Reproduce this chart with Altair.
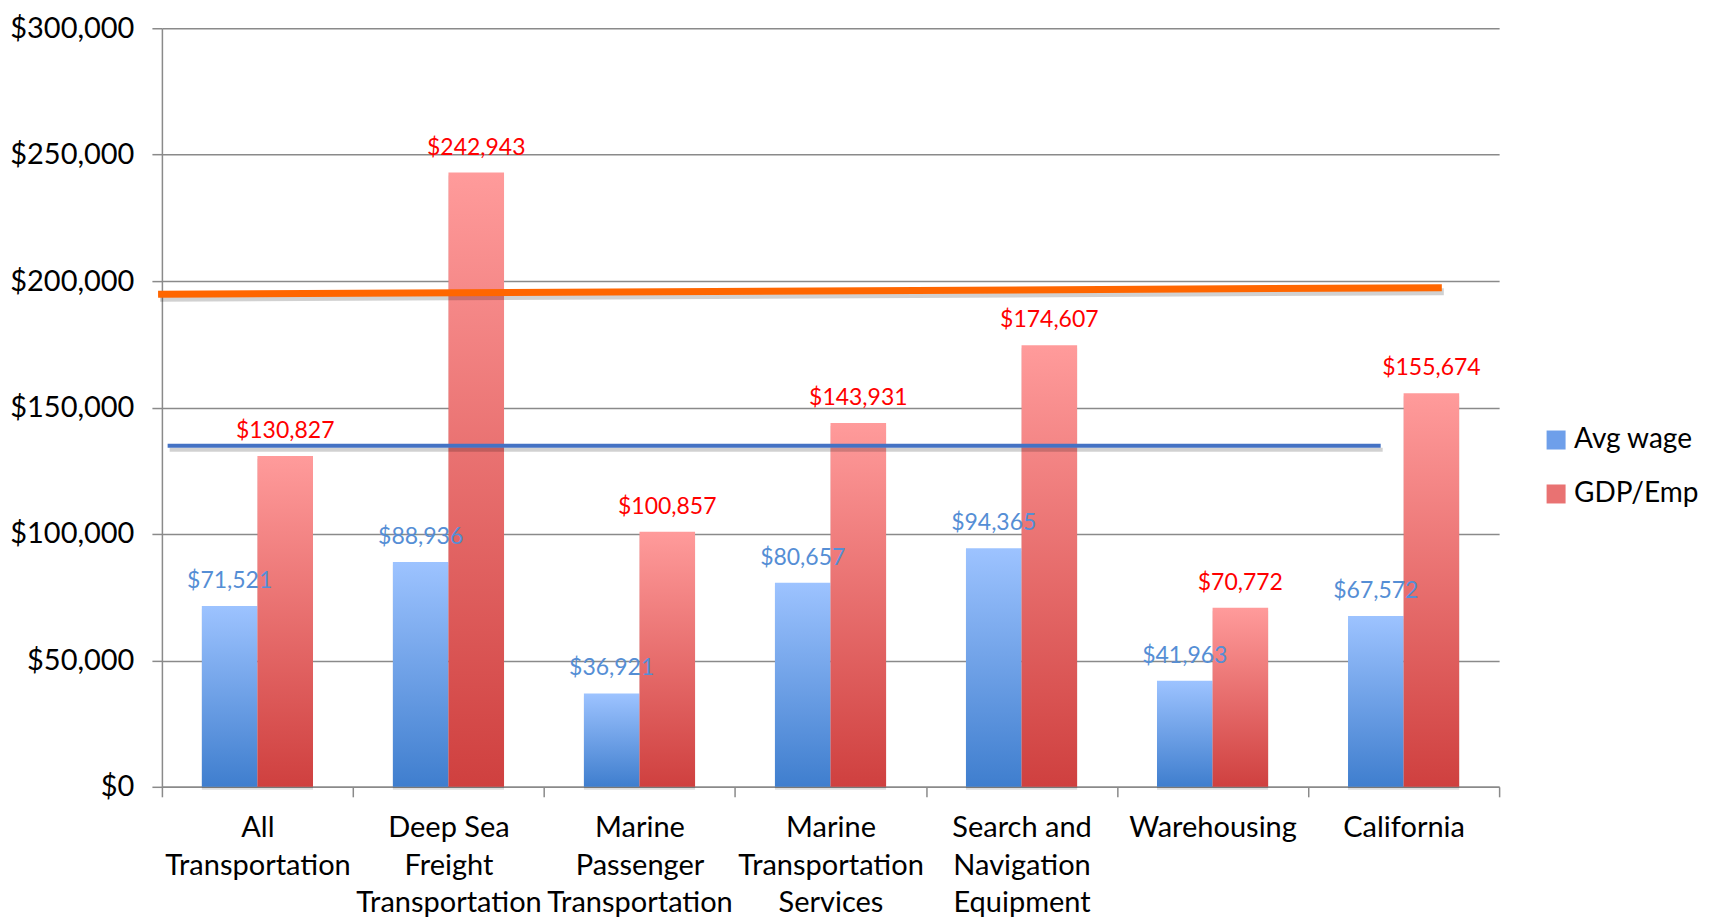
import altair as alt
import pandas as pd

categories = [
    "All|Transportation",
    "Deep Sea|Freight|Transportation",
    "Marine|Passenger|Transportation",
    "Marine|Transportation|Services",
    "Search and|Navigation|Equipment",
    "Warehousing",
    "California",
]
series = ["Avg wage", "GDP/Emp"]
avg_wage = [71521, 88936, 36921, 80657, 94365, 41963, 67572]
gdp_emp = [130827, 242943, 100857, 143931, 174607, 70772, 155674]

# reference lines (x in category units, 0..7 across the plot)
orange_pos = [-0.02, 6.70]
orange_val = [194760, 197400]
blue_pos = [0.03, 6.38]
blue_val = [134900, 134900]
y_ticks = [0, 50000, 100000, 150000, 200000, 250000, 300000]

rows = []
for c, a, g in zip(categories, avg_wage, gdp_emp):
    rows.append({"category": c, "series": series[0], "value": a})
    rows.append({"category": c, "series": series[1], "value": g})
df = pd.DataFrame(rows)

line_df = pd.DataFrame({
    "pos": orange_pos + blue_pos,
    "value": orange_val + blue_val,
    "line": ["orange", "orange", "blue", "blue"],
})

FONT = "Lato"
GRID = "#8a8a8a"

blue_grad = {"gradient": "linear", "x1": 0, "y1": 0, "x2": 0, "y2": 1,
             "stops": [{"offset": 0, "color": "#9DC3FF"}, {"offset": 1, "color": "#3F7ECE"}]}
red_grad = {"gradient": "linear", "x1": 0, "y1": 0, "x2": 0, "y2": 1,
            "stops": [{"offset": 0, "color": "#FF9B9B"}, {"offset": 1, "color": "#CF403F"}]}

x_enc = alt.X(
    "category:N",
    sort=categories,
    scale=alt.Scale(domain=categories, paddingInner=0, paddingOuter=0),
    axis=alt.Axis(
        title=None, labelAngle=0, labelExpr="split(datum.label, '|')",
        tickBand="extent", grid=False, labelFont=FONT, labelFontSize=29,
        labelColor="black", labelLineHeight=37.5, labelPadding=17, tickSize=10,
        tickColor=GRID, tickWidth=1.5, domainColor=GRID, domainWidth=1.5,
        labelBaseline="top", labelLimit=0,
    ),
)
xo_enc = alt.XOffset("series:N", scale=alt.Scale(domain=series, paddingInner=0, paddingOuter=0.7185))
y_enc = alt.Y(
    "value:Q",
    scale=alt.Scale(domain=[0, 300000], nice=False),
    axis=alt.Axis(
        title=None, format="$,.0f", values=y_ticks, grid=True, gridColor=GRID,
        gridWidth=1.5, labelFont=FONT, labelFontSize=29, labelColor="black",
        labelPadding=18, tickSize=10, tickColor=GRID, tickWidth=1.5,
        domainColor=GRID, domainWidth=1.5,
    ),
)

base = alt.Chart(df).encode(x=x_enc, xOffset=xo_enc, y=y_enc)

shadow = base.mark_bar(color="black", opacity=0.13, xOffset=3, yOffset=3)
blue_bars = base.transform_filter(alt.datum.series == series[0]).mark_bar(color=blue_grad)
red_bars = base.transform_filter(alt.datum.series == series[1]).mark_bar(color=red_grad)
blue_text = base.transform_filter(alt.datum.series == series[0]).mark_text(
    baseline="alphabetic", dy=-18, font=FONT, fontSize=23, color="#558ED5"
).encode(text=alt.Text("value:Q", format="$,.0f"))
red_text = base.transform_filter(alt.datum.series == series[1]).mark_text(
    baseline="alphabetic", dy=-18, font=FONT, fontSize=23, color="#FF0000"
).encode(text=alt.Text("value:Q", format="$,.0f"))
legend_pts = base.mark_point(opacity=0, filled=True).encode(
    color=alt.Color(
        "series:N",
        scale=alt.Scale(domain=series, range=["#6E9FEA", "#E97272"]),
        legend=alt.Legend(
            title=None, orient="none", legendX=1381, legendY=398,
            symbolType="square", symbolSize=361, symbolOpacity=1,
            symbolStrokeWidth=0, labelFont=FONT, labelFontSize=28,
            labelColor="black", rowPadding=26, labelOffset=4, padding=0,
        ),
    )
)

bars_layer = alt.layer(shadow, blue_bars, red_bars, blue_text, red_text, legend_pts)

lx = alt.X("pos:Q", scale=alt.Scale(domain=[0, 7], nice=False, zero=False), axis=None)
lbase = alt.Chart(line_df).encode(x=lx, y=y_enc)
o_sh = lbase.transform_filter(alt.datum.line == "orange").mark_line(
    color="black", opacity=0.18, strokeWidth=7, strokeCap="butt", xOffset=2, yOffset=4)
o_ln = lbase.transform_filter(alt.datum.line == "orange").mark_line(
    color="#FF6600", strokeWidth=7, strokeCap="butt")
b_sh = lbase.transform_filter(alt.datum.line == "blue").mark_line(
    color="black", opacity=0.18, strokeWidth=4, strokeCap="butt", xOffset=2, yOffset=4)
b_ln = lbase.transform_filter(alt.datum.line == "blue").mark_line(
    color="#4472C4", strokeWidth=4, strokeCap="butt")
lines_layer = alt.layer(o_sh, b_sh, o_ln, b_ln)

chart = (
    alt.layer(bars_layer, lines_layer)
    .resolve_scale(x="independent")
    .properties(width=1338, height=759, padding={"left": 1, "top": 6, "right": 2, "bottom": 0})
    .configure_view(strokeWidth=0)
)

chart.save("out.html", embed_options={"renderer": "svg", "actions": False})
